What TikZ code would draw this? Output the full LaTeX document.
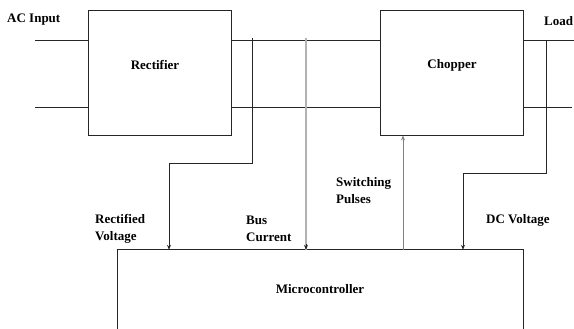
\documentclass[tikz,border=0pt]{standalone}
\usepackage{fontspec}
\setmainfont{Liberation Serif}
\usetikzlibrary{arrows.meta}
\begin{document}
\begin{tikzpicture}[x=1pt,y=-1pt,
  box/.style={draw=black!85, line width=0.9pt, minimum width=143pt, minimum height=125pt, inner sep=0pt},
  wire/.style={draw=black!85, line width=0.9pt},
  sig/.style={draw=black!85, line width=0.7pt, -{Stealth[length=5pt,width=4pt]}},
  gsig/.style={draw=black!30, line width=1.1pt},
  txt/.style={font=\bfseries\fontsize{13}{15}\selectfont, inner sep=0pt},
  lbl/.style={txt, align=left, anchor=west}]
\useasboundingbox (0,0) rectangle (574,329);
% blocks
\node[box] (rect) at (159.5,72.5) {};
\node[box] (chop) at (451.5,72.5) {};
\node[minimum width=405pt, minimum height=80pt, inner sep=0pt] (mc) at (320.5,290) {};
\draw[wire] (mc.south west) -- (mc.north west) -- (mc.north east) -- (mc.south east);
\node[txt] (trect) at (155,65) {Rectifier};
\node[txt] (tchop) at (452,65) {Chopper};
\node[txt] (tmc) at (320,289) {Microcontroller};
% input and load lines
\coordinate (ac1) at (35,40);
\coordinate (ac2) at (35,107);
\coordinate (ld1) at (574,40);
\coordinate (ld2) at (572,107);
\draw[wire] (ac1) -- (ac1 -| rect.west);
\draw[wire] (ac2) -- (ac2 -| rect.west);
\draw[wire] (ac1 -| rect.east) -- (ac1 -| chop.west);
\draw[wire] (ac2 -| rect.east) -- (ac2 -| chop.west);
\draw[wire] (ld1 -| chop.east) -- (ld1);
\draw[wire] (ld2 -| chop.east) -- (ld2);
\node[txt, anchor=west] (tac) at (7,20) {AC Input};
\node[txt, anchor=west] (tload) at (544,21) {Load};
% rectified voltage
\coordinate (rv0) at (252,38);
\coordinate (rv1) at (252,163);
\coordinate (rv2) at (169,163);
\draw[sig] (rv0) -- (rv1) -- (rv2) -- (rv2 |- mc.north);
\node[lbl] (trv) at (95,229) {Rectified\\[2pt]Voltage};
% bus current
\coordinate (bc0) at (306,38);
\draw[gsig] (bc0) -- (bc0 |- mc.north);
\draw[sig] (306,244) -- (bc0 |- mc.north);
\node[lbl] (tbc) at (246,229) {Bus\\[2pt]Current};
% switching pulses
\coordinate (sp0) at (403,250);
\draw[draw=black!50, line width=0.9pt, -{Stealth[length=5pt,width=4pt]}] (sp0 |- mc.north) -- (sp0 |- chop.south);
\node[lbl] (tsp) at (336,191) {Switching\\[2pt]Pulses};
% dc voltage
\coordinate (dv0) at (546,40);
\coordinate (dv1) at (546,173);
\coordinate (dv2) at (463,173);
\draw[sig] (dv0) -- (dv1) -- (dv2) -- (dv2 |- mc.north);
\node[lbl] (tdv) at (486,220) {DC Voltage};
\end{tikzpicture}
\end{document}
